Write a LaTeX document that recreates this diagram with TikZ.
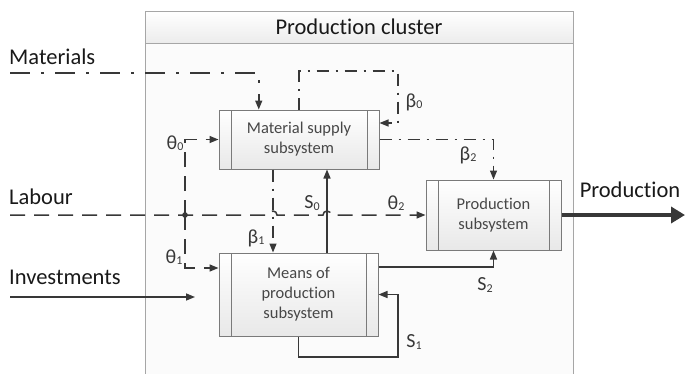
\documentclass[tikz,border=0pt]{standalone}
\usepackage{fontspec}
\setmainfont{Carlito}[Ligatures=NoCommon]
\usepackage{xcolor}
\usepackage{tikz}
\usetikzlibrary{arrows.meta,calc}
\definecolor{lncol}{HTML}{383838}
\definecolor{boxline}{HTML}{7A7A7A}
\definecolor{boxtext}{HTML}{474747}
\tikzstyle{arrow} = [-{Triangle[length=9pt,width=7pt]}]
\tikzstyle{flow} = [draw=lncol,line width=1.5pt]
\tikzstyle{labourline} = [flow,dash pattern=on 15pt off 9pt]
\tikzstyle{matline} = [flow,dash pattern=on 20pt off 11pt on 3pt off 11pt]
\tikzstyle{fbline} = [draw=lncol,line width=1.2pt,dash pattern=on 12pt off 7pt on 2pt off 7pt]
\tikzstyle{subsys} = [draw=boxline,line width=1pt,top color=white,bottom color=gray!18,
  text=boxtext,font=\fontsize{16.5}{20}\selectfont,align=center,inner sep=0pt,
  path picture={\draw[boxline,line width=1pt]
    ([xshift=12pt]path picture bounding box.north west) -- ([xshift=12pt]path picture bounding box.south west)
    ([xshift=-12pt]path picture bounding box.north east) -- ([xshift=-12pt]path picture bounding box.south east);}]
\tikzstyle{biglabel} = [font=\fontsize{22.5}{24}\selectfont,text=black!90,inner sep=0pt]
\tikzstyle{varlabel} = [font=\fontsize{20}{22}\selectfont,text=lncol,inner sep=0pt]
\newcommand{\lsub}[1]{\raisebox{-1.5pt}{\fontsize{12}{12}\selectfont #1}}

\begin{document}
\begin{tikzpicture}[x=1pt,y=-1pt]
          \useasboundingbox (0,0) rectangle (685,373);
          % cluster
          \draw[draw=gray!70,line width=1pt,fill=gray!3] (145,11) rectangle (573,376);
          \draw[draw=gray!70,line width=1pt,top color=white,bottom color=gray!15] (145,11) rectangle (573,43);
          \node[biglabel] (title) at (359,27) {Production cluster};

          % subsystems
          \node[subsys,minimum width=160pt,minimum height=59pt] (ms) at (299,139.5) {Material supply\\subsystem};
          \node[subsys,minimum width=159pt,minimum height=83pt] (mp) at (298.5,294.5) {Means of\\production\\subsystem};
          \node[subsys,minimum width=135pt,minimum height=70pt] (ps) at (493.5,215) {Production\\subsystem};

          % inputs and outputs
          \coordinate (matin) at (10,73);
          \coordinate (labin) at (10,215);
          \coordinate (invin) at (10,297);
          \coordinate (invend) at (195,297);
          \coordinate (jn) at (185,215);
          \coordinate (prodout) at (685,215);
          \coordinate (b0turn) at (398,71);
          \coordinate (s1turn) at (398,357);

          \node[biglabel,anchor=west] (materials) at (9,57) {Materials};
          \node[biglabel,anchor=west] (labour) at (9,197) {Labour};
          \node[biglabel,anchor=west] (investments) at (9,277) {Investments};
          \node[biglabel] (production) at (630,190) {Production};

          \draw[matline,arrow] (matin) -| ($(ms.north west)!0.25!(ms.north east)$);
          \draw[labourline,arrow] (labin) -- (269,215) arc[start angle=180,end angle=0,radius=4pt]
            -- (323,215) arc[start angle=180,end angle=0,radius=4pt] -- (ps.west);
          \fill[lncol] (jn) circle (2.8pt);
          \draw[labourline,arrow] (jn) |- (ms.west);
          \draw[labourline,arrow] (jn) |- ([yshift=26.5pt]mp.west);
          \draw[flow,arrow] (invin) -- (invend);
          \draw[draw=lncol,line width=4.5pt,-{Triangle[length=14pt,width=16pt]}] (ps.east) -- (prodout);

          % feedbacks
          \draw[fbline,arrow] (ms.north) |- (b0turn) |- ([yshift=16.5pt]ms.east);
          \draw[fbline,arrow] (ms.east) -| (ps.north);
          \draw[fbline,arrow] ([xshift=-26pt]ms.south) -- ([xshift=-26pt]ms.south |- mp.north);
          \draw[flow,arrow] ([xshift=28.5pt]mp.north) -- ([xshift=28.5pt]mp.north |- ms.south);
          \draw[flow,arrow] ([yshift=27.5pt]mp.east) -| (ps.south);
          \draw[flow,arrow] (mp.south) |- (s1turn) |- (mp.east);

          \node[varlabel] (th0) at (175,143) {θ\lsub{0}};
          \node[varlabel] (th1) at (174,257) {θ\lsub{1}};
          \node[varlabel] (th2) at (396,203) {θ\lsub{2}};
          \node[varlabel] (be0) at (414,102) {β\lsub{0}};
          \node[varlabel] (be1) at (256,238) {β\lsub{1}};
          \node[varlabel] (be2) at (468,155) {β\lsub{2}};
          \node[varlabel] (s0) at (312,203) {S\lsub{0}};
          \node[varlabel] (s1) at (414,342) {S\lsub{1}};
          \node[varlabel] (s2) at (485,285) {S\lsub{2}};
        \end{tikzpicture}
\end{document}
